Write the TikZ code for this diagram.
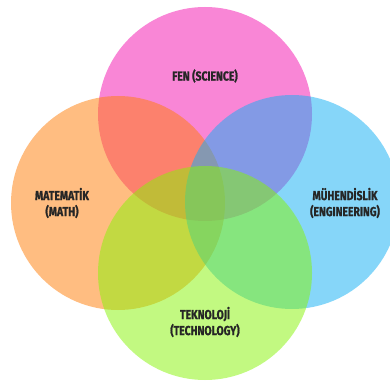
\documentclass[tikz,border=0pt]{standalone}
\usepackage{fontspec}
\usepackage{xcolor}
\usepackage{tikz}
\newfontfamily\vennfont{Fira Sans}[FakeStretch=0.8, BoldFeatures={FakeBold=1.2}]
\definecolor{sciencepink}{RGB}{245,15,175}
\definecolor{mathorange}{RGB}{255,125,5}
\definecolor{engblue}{RGB}{15,175,245}
\definecolor{techgreen}{RGB}{135,245,5}

\begin{document}
\begin{tikzpicture}[x=1pt, y=1pt,
    discipline/.style={circle, minimum size=214pt, inner sep=0pt, fill opacity=0.5},
    topic/.style={font=\vennfont\bfseries\fontsize{13}{16}\selectfont, align=center, text=black!85},
]
\useasboundingbox (0,0) rectangle (390,383);
\clip (0,0) rectangle (390,383);
\fill[white] (0,0) rectangle (390,383);

% Circles (order matters for the overlaps)
\node[discipline, fill=sciencepink] (fen) at (205,269) {};
\node[discipline, fill=mathorange] (mat) at (118,180) {};
\node[discipline, fill=engblue] (muh) at (292,181) {};
\node[discipline, fill=techgreen] (tek) at (205,110) {};

% Labels
\node[topic] (fenlabel) at (205,307) {FEN (SCIENCE)};
\node[topic] (matlabel) at (62,180) {MATEMATİK\\(MATH)};
\node[topic] (muhlabel) at (345,180) {MÜHENDİSLİK\\(ENGINEERING)};
\node[topic] (teklabel) at (205,61) {TEKNOLOJİ\\(TECHNOLOGY)};
\end{tikzpicture}
\end{document}
